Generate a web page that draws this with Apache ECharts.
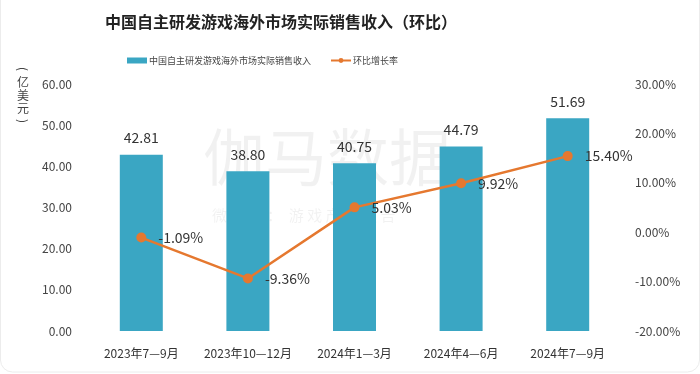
<!DOCTYPE html>
<html>
<head>
<meta charset="utf-8">
<script src="https://cdn.jsdelivr.net/npm/echarts@6/dist/echarts.min.js"></script>
<style>
html,body{margin:0;padding:0;background:#fff;}
#chart{width:700px;height:374px;}
</style>
</head>
<body>
<div id="chart"></div>
<script>
const categories = ['2023年7—9月', '2023年10—12月', '2024年1—3月', '2024年4—6月', '2024年7—9月'];
const revenue = [42.81, 38.80, 40.75, 44.79, 51.69];
const growth = [-1.09, -9.36, 5.03, 9.92, 15.40];
const revenueName = '中国自主研发游戏海外市场实际销售收入';
const growthName = '环比增长率';
const titleText = '中国自主研发游戏海外市场实际销售收入（环比）';
const unitChars = ['(', '亿', '美', '元', ')'];

const font = '"Noto Sans CJK SC", "Noto Sans", sans-serif';
const unitGraphics = unitChars.map((c, i) => {
  const isParen = (i === 0 || i === unitChars.length - 1);
  return {
    type: 'text', x: 23, y: 69 + i * 13, silent: true,
    rotation: isParen ? -Math.PI / 2 : 0,
    style: { text: c, font: '12px "Noto Sans CJK SC"', fill: '#444', align: 'center', verticalAlign: 'middle' }
  };
});
const chart = echarts.init(document.getElementById('chart'));
chart.setOption({
  backgroundColor: '#fff',
  textStyle: { fontFamily: font },
  title: {
    text: titleText, left: 100, top: 9,
    textStyle: { fontSize: 16, fontWeight: 'bold', color: '#222', fontFamily: font }
  },
  legend: {
    left: 122, top: 51, itemGap: 19,
    itemWidth: 20, itemHeight: 6,
    textStyle: { fontSize: 9, color: '#444', padding: [0, 0, 0, -3] },
    data: [
      { name: revenueName, icon: 'rect' },
      { name: growthName }
    ]
  },
  graphic: [
    { type: 'text', left: 203, top: 126, silent: true, z: 0,
      style: { text: '伽马数据', font: '62px "Noto Sans CJK SC"', fill: 'rgba(0,0,0,0.055)' } },
    { type: 'text', left: 212, top: 208, silent: true, z: 0,
      style: { text: '微 信 号 ：  游 戏 产 业 报 告', font: '15px "Noto Sans CJK SC"', fill: 'rgba(0,0,0,0.055)' } },
    ...unitGraphics,
    { type: 'rect', silent: true, shape: { x: 0.5, y: -20, width: 699, height: 392, r: 12 },
      style: { fill: 'none', stroke: '#ececec', lineWidth: 1 } }
  ],
  grid: { left: 88, right: 79, top: 84, bottom: 43 },
  xAxis: {
    type: 'category', data: categories,
    axisLine: { show: false }, axisTick: { show: false },
    axisLabel: { fontSize: 12, color: '#333', margin: 16, interval: 0, hideOverlap: false }
  },
  yAxis: [
    { type: 'value', min: 0, max: 60, interval: 10,
      splitLine: { show: false }, axisLine: { show: false }, axisTick: { show: false },
      axisLabel: { fontSize: 12, color: '#444', margin: 16, formatter: v => v.toFixed(2) } },
    { type: 'value', min: -20, max: 30, interval: 10, alignTicks: false,
      splitLine: { show: false }, axisLine: { show: false }, axisTick: { show: false },
      axisLabel: { fontSize: 12, color: '#444', margin: 14, formatter: v => v.toFixed(2) + '%' } }
  ],
  series: [
    { name: revenueName, type: 'bar', data: revenue, barWidth: 43, z: 2,
      itemStyle: { color: '#3AA6C3' },
      label: { show: true, position: 'top', distance: 10, fontSize: 14, color: '#333',
        formatter: p => p.value.toFixed(2) } },
    { name: growthName, type: 'line', yAxisIndex: 1, data: growth, z: 3,
      symbol: 'circle', symbolSize: 10,
      lineStyle: { color: '#E5782F', width: 2.5 },
      itemStyle: { color: '#E5782F' },
      label: { show: true, position: 'right', distance: 12, fontSize: 14, color: '#333',
        formatter: p => p.value.toFixed(2) + '%' } }
  ]
});
</script>
</body>
</html>
